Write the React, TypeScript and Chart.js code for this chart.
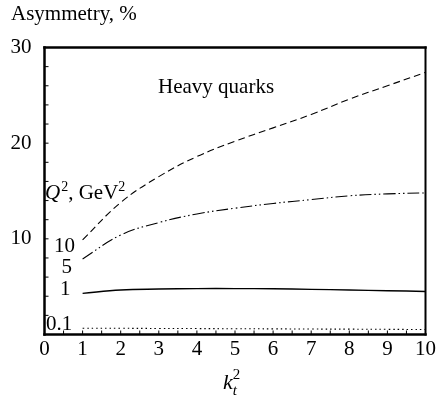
import React, { useEffect, useRef } from "react";
import { Chart, registerables } from "chart.js";

Chart.register(...registerables);

// k_t^2 values (x axis)
const kt2 = [1, 2, 3, 4, 5, 6, 7, 8, 9, 10];
// Asymmetry (%) for each Q^2 value
const asymQ10 = [9.9, 13.8, 16.5, 18.6, 20.2, 21.6, 23.0, 24.6, 26.0, 27.4];
const asymQ5 = [7.9, 10.4, 11.7, 12.6, 13.2, 13.7, 14.1, 14.5, 14.7, 14.8];
const asymQ1 = [4.3, 4.65, 4.75, 4.8, 4.8, 4.78, 4.72, 4.65, 4.58, 4.5];
const asymQ01 = [0.66, 0.65, 0.63, 0.62, 0.6, 0.59, 0.57, 0.56, 0.54, 0.52];

const seriesNames = ["10", "5", "1", "0.1"];
const seriesDash = [[7, 4], [12, 3, 1.5, 3, 1.5, 3], [], [1.5, 3]];
// where the Q^2 value labels sit (data units)
const labelX = [0.8, 0.72, 0.68, 0.73];
const labelY = [8.6, 6.4, 4.1, 0.47];

const xMin = 0, xMax = 10, xStep = 1, xMinorStep = 0.5;
const yMin = 0, yMax = 30, yStep = 10, yMinorStep = 2;

const FONT = "'Liberation Serif', 'Times New Roman', serif";
const TXT = 21;
const SUP = 14;

function line(ctx: CanvasRenderingContext2D, x1: number, y1: number, x2: number, y2: number) {
  ctx.beginPath();
  ctx.moveTo(x1, y1);
  ctx.lineTo(x2, y2);
  ctx.stroke();
}

const decor = {
  id: "decor",
  afterDraw(chart: any) {
    const { ctx, chartArea: ca, scales } = chart;
    const x = scales.x, y = scales.y;
    ctx.save();
    ctx.strokeStyle = "#000";
    ctx.fillStyle = "#000";
    ctx.lineWidth = 1;
    for (let v = yMin; v <= yMax + 1e-9; v += yMinorStep) {
      const py = y.getPixelForValue(v);
      line(ctx, ca.left, py, ca.left + 4, py);
    }
    for (let v = xMin; v <= xMax + 1e-9; v += xMinorStep) {
      const px = x.getPixelForValue(v);
      line(ctx, px, ca.bottom, px, ca.bottom - 4);
    }
    ctx.lineCap = "square";
    ctx.lineWidth = 2.5;
    line(ctx, ca.left, ca.top, ca.left, ca.bottom);
    line(ctx, ca.left, ca.bottom, ca.right, ca.bottom);
    line(ctx, ca.left, ca.top, ca.right, ca.top);
    ctx.lineWidth = 2;
    line(ctx, ca.right, ca.top, ca.right, ca.bottom);

    // series labels
    ctx.font = `${TXT}px ${FONT}`;
    ctx.textAlign = "right";
    ctx.textBaseline = "alphabetic";
    seriesNames.forEach((n, i) => {
      ctx.fillText(n, x.getPixelForValue(labelX[i]), y.getPixelForValue(labelY[i]));
    });

    // Heavy quarks
    ctx.textAlign = "left";
    ctx.fillText("Heavy quarks", x.getPixelForValue(2.98), y.getPixelForValue(25.27));

    // Q^2, GeV^2
    let qx = x.getPixelForValue(0) + 0.5;
    const qy = y.getPixelForValue(14.16);
    ctx.font = `italic ${TXT}px ${FONT}`;
    ctx.fillText("Q", qx, qy);
    qx += ctx.measureText("Q").width + 1;
    ctx.font = `${SUP}px ${FONT}`;
    ctx.fillText("2", qx, qy - 8);
    qx += ctx.measureText("2").width;
    ctx.font = `${TXT}px ${FONT}`;
    ctx.fillText(", GeV", qx, qy);
    qx += ctx.measureText(", GeV").width;
    ctx.font = `${SUP}px ${FONT}`;
    ctx.fillText("2", qx, qy - 8);

    // y title
    ctx.font = `${TXT}px ${FONT}`;
    ctx.fillText("Asymmetry, %", 11, ca.top - 28);

    // x title k_t^2
    const cx = (ca.left + ca.right) / 2 - 12;
    const by = 389;
    ctx.font = `italic 22px ${FONT}`;
    ctx.fillText("k", cx, by);
    const kw = ctx.measureText("k").width;
    ctx.font = `italic 15px ${FONT}`;
    ctx.fillText("t", cx + kw, by + 6);
    ctx.font = `15px ${FONT}`;
    ctx.fillText("2", cx + kw, by - 10);
    ctx.restore();
  },
};

export default function App() {
  const ref = useRef<HTMLCanvasElement | null>(null);
  useEffect(() => {
    if (!ref.current) return;
    const series = [asymQ10, asymQ5, asymQ1, asymQ01];
    const chart = new Chart(ref.current, {
      type: "line",
      data: {
        datasets: series.map((vals, i) => ({
          label: seriesNames[i],
          data: kt2.map((k, j) => ({ x: k, y: vals[j] })),
          borderColor: "#000",
          borderWidth: i === 2 ? 1.4 : 1.1,
          borderDash: seriesDash[i],
          pointRadius: 0,
          fill: false,
          tension: 0.4,
        })),
      },
      options: {
        animation: false,
        responsive: true,
        maintainAspectRatio: false,
        layout: { padding: { top: 47.5, right: 13.5, left: 0, bottom: 0 } },
        plugins: { legend: { display: false }, tooltip: { enabled: false } },
        scales: {
          x: {
            type: "linear",
            min: xMin,
            max: xMax,
            grid: { display: false, drawTicks: false },
            border: { display: false },
            ticks: {
              stepSize: xStep,
              color: "#000",
              padding: 2,
              font: { family: FONT, size: TXT },
              maxRotation: 0,
            },
            afterFit: (s: any) => { s.height = 65.5; },
          },
          y: {
            type: "linear",
            min: yMin,
            max: yMax,
            grid: { display: false, drawTicks: false },
            border: { display: false },
            ticks: {
              stepSize: yStep,
              color: "#000",
              padding: 13,
              font: { family: FONT, size: TXT },
              callback: (v: any) => (v === 0 ? "" : String(v)),
            },
            afterFit: (s: any) => { s.width = 44.5; },
          },
        },
      },
      plugins: [decor],
    });
    return () => chart.destroy();
  }, []);
  return (
    <div style={{ position: "absolute", left: 0, top: 0, width: 439, height: 400, background: "#fff" }}>
      <canvas ref={ref} />
    </div>
  );
}
